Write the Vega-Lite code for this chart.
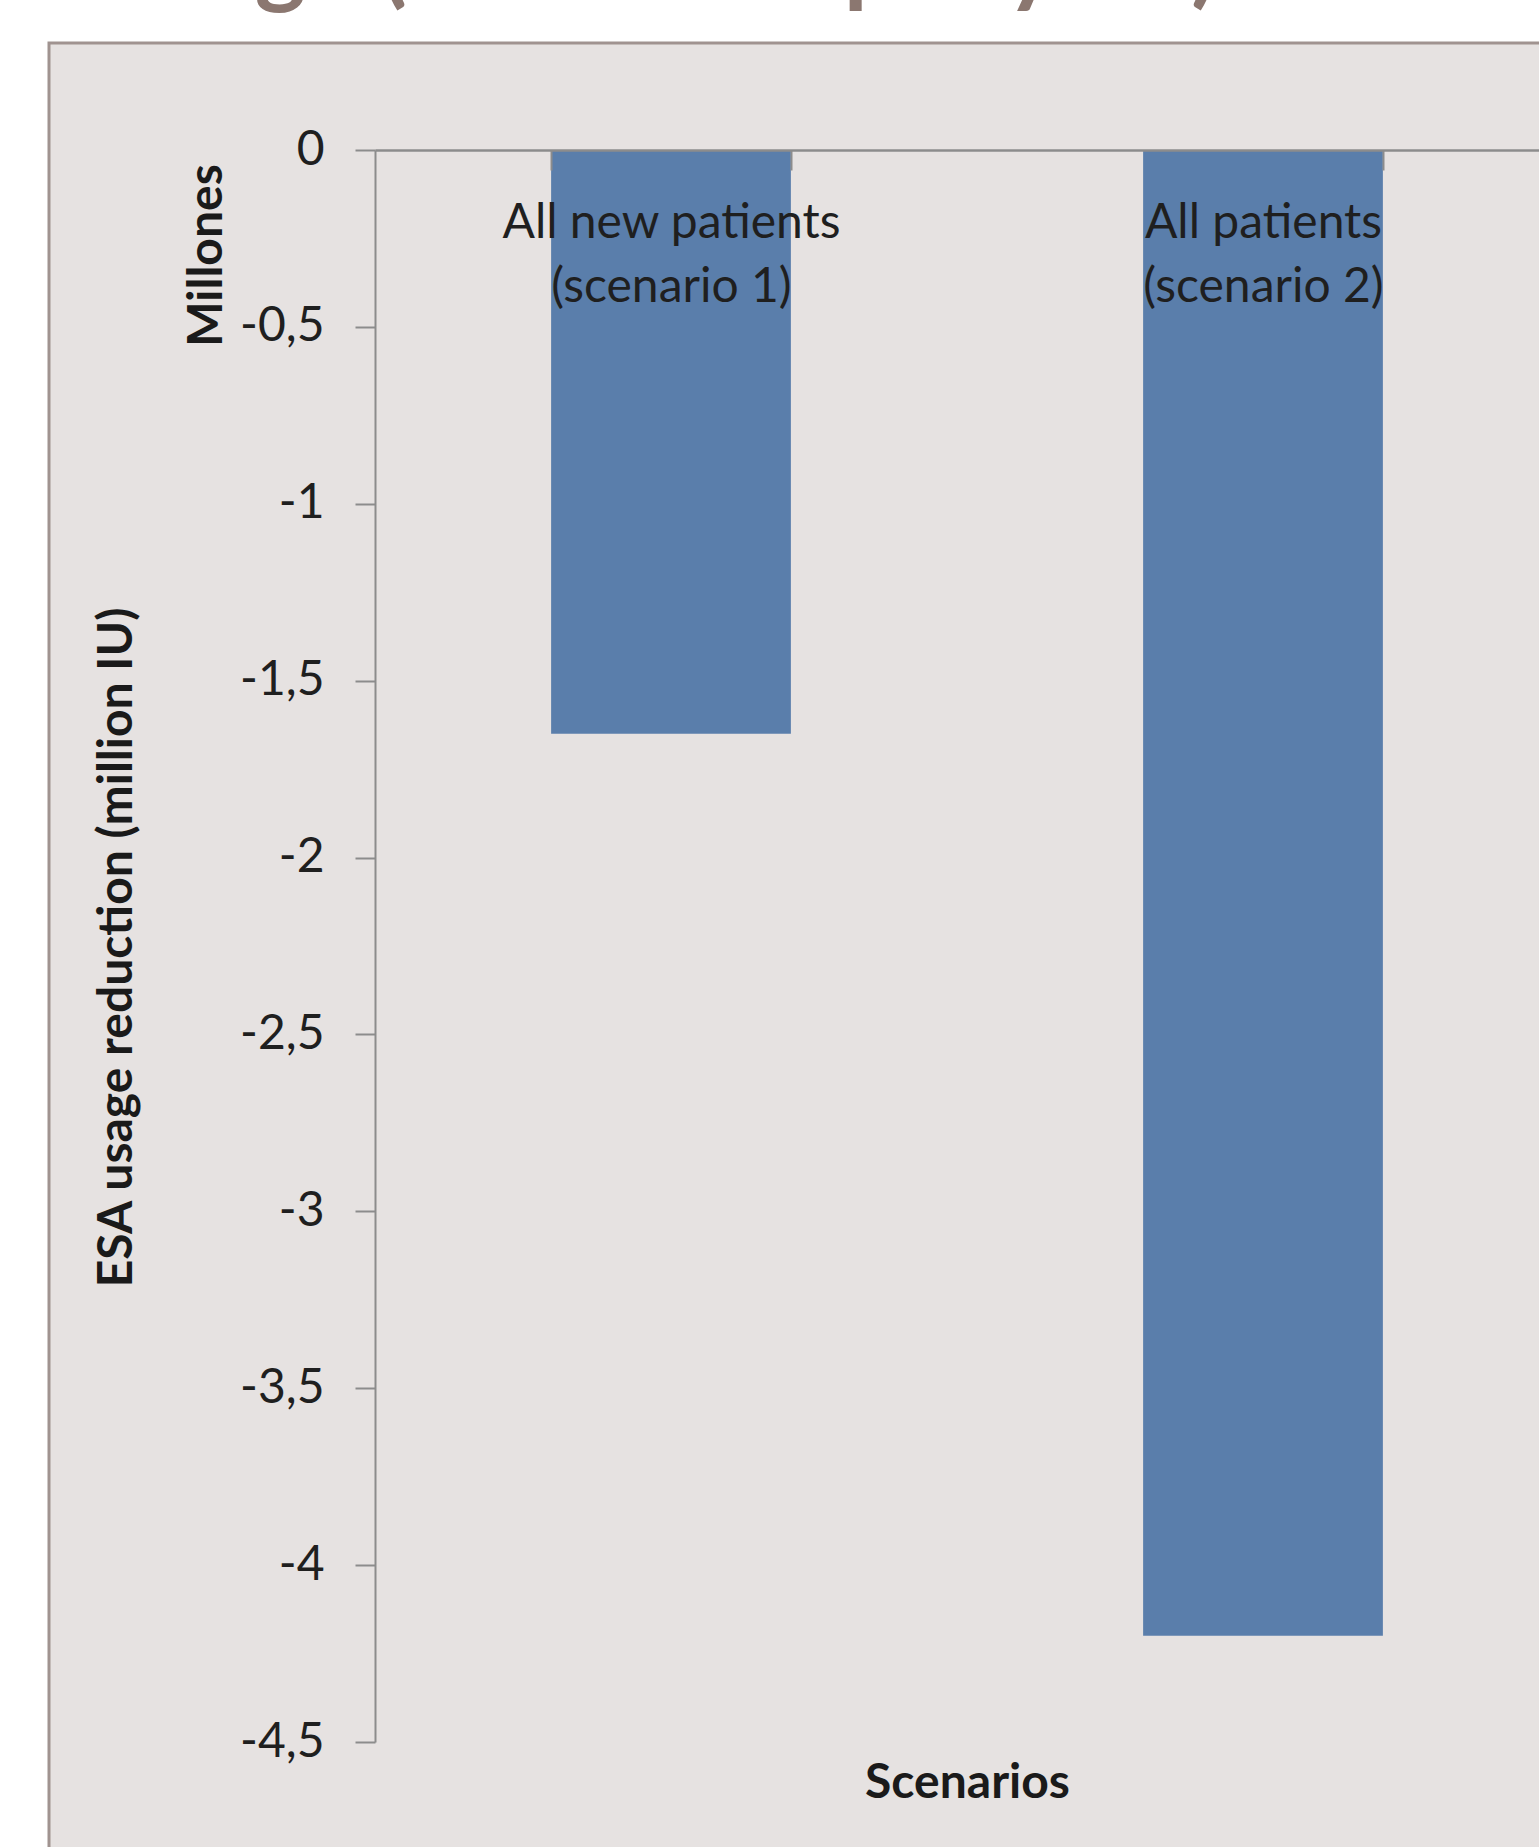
{
  "$schema": "https://vega.github.io/schema/vega-lite/v6.json",
  "width": 1500,
  "height": 1814,
  "autosize": {"type": "none"},
  "padding": {"left": 49, "top": 43, "right": -10, "bottom": -10},
  "background": "#FFFFFF",
  "title": {
    "text": "ESA usage (million IU per year)",
    "anchor": "start",
    "dx": -136,
    "offset": -49,
    "baseline": "alphabetic",
    "font": "Lato",
    "fontSize": 97,
    "fontWeight": "bold",
    "color": "#8B7770"
  },
  "data": {
    "values": [
      {"scenario": "All new patients (scenario 1)", "reduction": -1.65},
      {"scenario": "All patients (scenario 2)", "reduction": -4.2}
    ]
  },
  "encoding": {
    "x": {
      "field": "scenario",
      "type": "nominal",
      "sort": null,
      "scale": {"range": [326, 1510], "paddingInner": 0.595, "paddingOuter": 0.2975},
      "axis": {
        "orient": "bottom",
        "offset": -1707,
        "zindex": 1,
        "title": "Scenarios",
        "titleY": 1647,
        "titleBaseline": "alphabetic",
        "titleFont": "Lato",
        "titleFontSize": 48,
        "titleFontWeight": "bold",
        "titleColor": "#1a1a1a",
        "labelAngle": 0,
        "labelFont": "Lato",
        "labelFontSize": 48,
        "labelColor": "#1f1f1f",
        "labelLineHeight": 64,
        "labelPadding": 29,
        "labelBaseline": "top",
        "labelOverlap": false,
        "labelLimit": 1000,
        "labelExpr": "[slice(datum.label, 0, indexof(datum.label, ' (')), slice(datum.label, indexof(datum.label, ' (') + 1)]",
        "ticks": true,
        "tickOpacity": 1,
        "tickSize": 20,
        "tickColor": "#8C8C8C",
        "tickWidth": 2,
        "tickBand": "extent",
        "domainColor": "#8C8C8C",
        "domainWidth": 2.5,
        "grid": false
      }
    }
  },
  "layer": [
    {
      "mark": {"type": "bar", "color": "#5A7EAB"},
      "encoding": {
        "y": {
          "field": "reduction",
          "type": "quantitative",
          "scale": {"domain": [-4.5, 0], "range": [1699, 107], "nice": false, "zero": false},
          "axis": {
            "orient": "left",
            "offset": -326,
            "values": [0, -0.5, -1, -1.5, -2, -2.5, -3, -3.5, -4, -4.5],
            "labelExpr": "replace(toString(datum.value), '.', ',')",
            "labelFont": "Lato",
            "labelFontSize": 48,
            "labelColor": "#1f1f1f",
            "labelPadding": 31,
            "labelOverlap": false,
            "tickSize": 20,
            "tickColor": "#8C8C8C",
            "tickWidth": 2,
            "domainColor": "#8C8C8C",
            "domainWidth": 2,
            "grid": false,
            "title": "Millones",
            "titleX": -154,
            "titleY": 212,
            "titleAngle": -90,
            "titleAlign": "center",
            "titleBaseline": "alphabetic",
            "titleFont": "Lato",
            "titleFontSize": 48,
            "titleFontWeight": "bold",
            "titleColor": "#1a1a1a"
          }
        }
      }
    },
    {
      "mark": {"type": "bar", "opacity": 0},
      "encoding": {
        "y": {
          "field": "reduction",
          "type": "quantitative",
          "scale": {"domain": [-4.5, 0], "range": [1699, 107], "nice": false, "zero": false},
          "axis": {
            "orient": "left",
            "offset": -326,
            "domain": false,
            "ticks": false,
            "labels": false,
            "grid": false,
            "title": "ESA usage reduction (million IU)",
            "titleX": -244,
            "titleY": 904,
            "titleAngle": -90,
            "titleAlign": "center",
            "titleBaseline": "alphabetic",
            "titleFont": "Lato",
            "titleFontSize": 48,
            "titleFontWeight": "bold",
            "titleColor": "#1a1a1a"
          }
        }
      }
    }
  ],
  "resolve": {"scale": {"y": "independent"}},
  "config": {
    "view": {"fill": "#E6E2E1", "stroke": "#A09390", "strokeWidth": 3},
    "axis": {"grid": false}
  }
}
